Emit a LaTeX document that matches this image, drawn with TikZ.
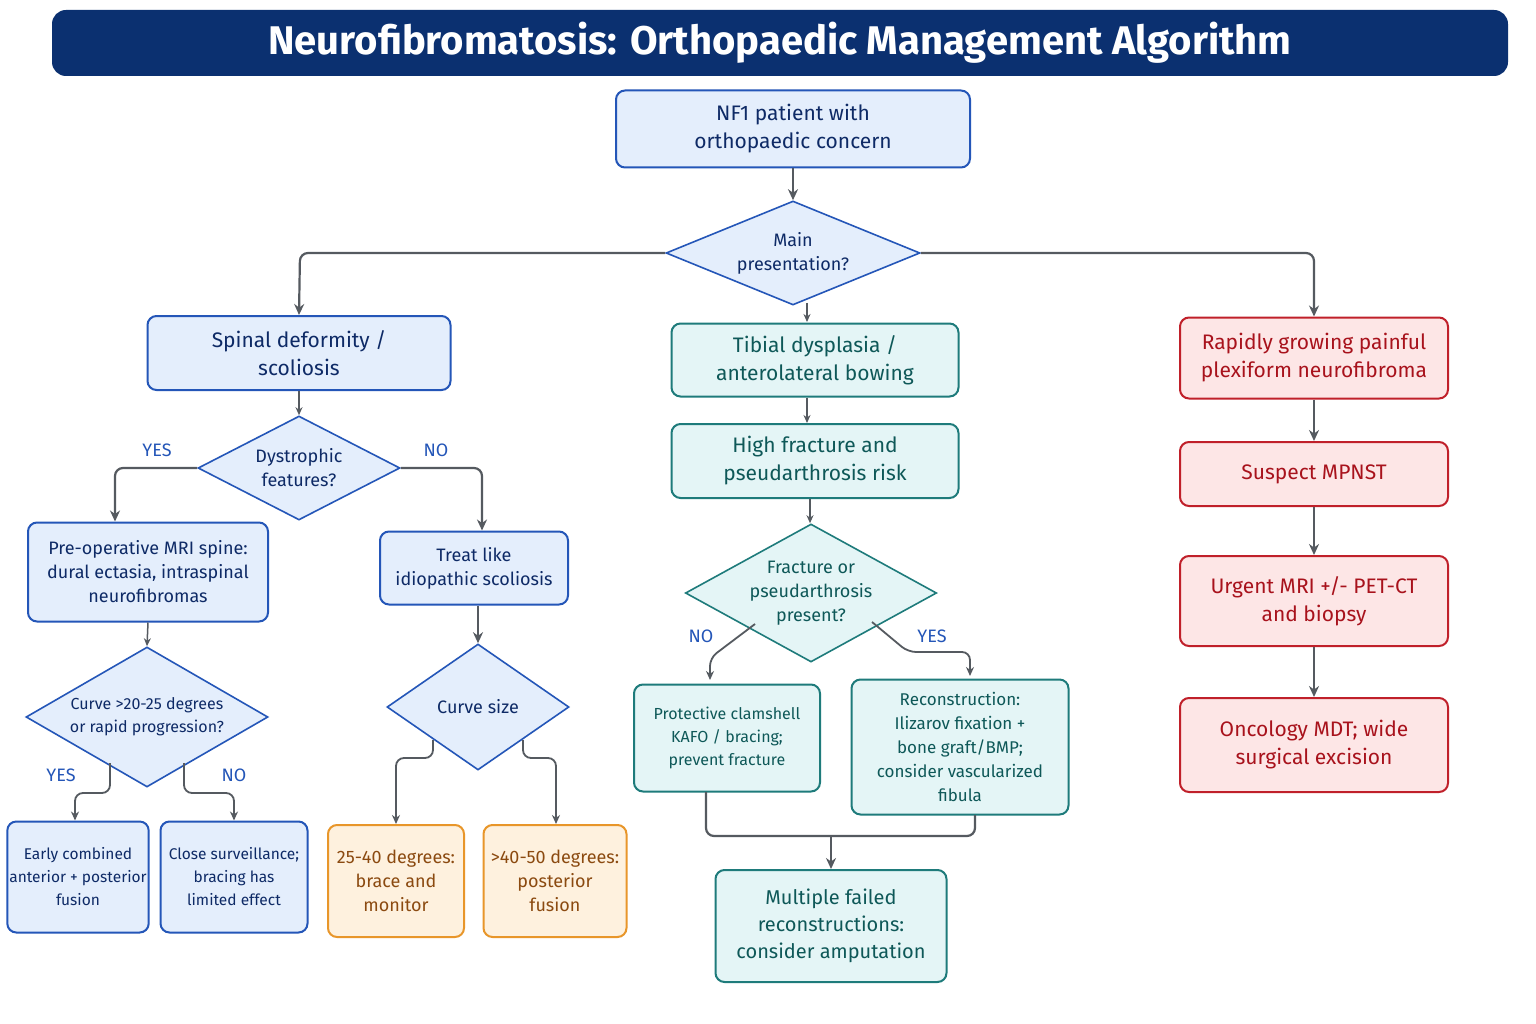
\documentclass[tikz,border=0pt]{standalone}
\usepackage{fontspec}
\setmainfont{Fira Sans}
\usetikzlibrary{shapes.geometric,arrows.meta}
\definecolor{navy}{HTML}{0B3070}
\definecolor{bfill}{HTML}{E4EEFC}
\definecolor{bdraw}{HTML}{2456B8}
\definecolor{btext}{HTML}{0E2A66}
\definecolor{tfill}{HTML}{E4F5F6}
\definecolor{tdraw}{HTML}{1E7B7B}
\definecolor{ttext}{HTML}{0E5858}
\definecolor{rfill}{HTML}{FDE6E6}
\definecolor{rdraw}{HTML}{C0202A}
\definecolor{rtext}{HTML}{A8121C}
\definecolor{ofill}{HTML}{FEF1DE}
\definecolor{odraw}{HTML}{E8962A}
\definecolor{otext}{HTML}{8B4A10}
\definecolor{lab}{HTML}{2456B8}
\definecolor{arr}{HTML}{555A60}
\tikzset{
 box/.style={draw, rounded corners=9pt, line width=2pt, align=center, inner sep=2pt},
 blue/.style={box, fill=bfill, draw=bdraw, text=btext},
 teal/.style={box, fill=tfill, draw=tdraw, text=ttext},
 red/.style={box, fill=rfill, draw=rdraw, text=rtext},
 orange/.style={box, fill=ofill, draw=odraw, text=otext},
 dia/.style={diamond, aspect=2, draw, line width=1.6pt, align=center, inner sep=0pt},
 bdia/.style={dia, fill=bfill, draw=bdraw, text=btext},
 tdia/.style={dia, fill=tfill, draw=tdraw, text=ttext},
 e/.style={draw=arr, line width=2.2pt, rounded corners=8pt, -{Stealth[length=11pt,width=10pt]}},
 lbl/.style={text=lab, font=\fontsize{18}{20}\selectfont},
 big/.style={font=\fontsize{21}{28}\selectfont},
 mid/.style={font=\fontsize{18}{24}\selectfont},
 sm/.style={font=\fontsize{16}{23}\selectfont},
}
\begin{document}
\begin{tikzpicture}[x=1pt,y=-1pt]
\useasboundingbox[fill=white] (0,0) rectangle (1536,1024);
\node[fill=navy, rounded corners=14pt, minimum width=1456pt, minimum height=66pt, text=white, font=\fontsize{40}{44}\selectfont\bfseries] (title) at (780,43) {Neurofibromatosis: Orthopaedic Management Algorithm};
\node[blue, big, minimum width=354pt, minimum height=77pt] (nf1) at (793,129) {NF1 patient with\\orthopaedic concern};
\node[bdia, mid, minimum width=254pt, minimum height=104pt] (main) at (793,253) {Main\\presentation?};
\node[blue, big, minimum width=303pt, minimum height=74pt] (spin) at (299,353) {Spinal deformity /\\scoliosis};
\node[teal, big, minimum width=287pt, minimum height=73pt] (tib) at (815,360) {Tibial dysplasia /\\anterolateral bowing};
\node[red, big, minimum width=268pt, minimum height=81pt] (rap) at (1314,358) {Rapidly growing painful\\plexiform neurofibroma};
\node[bdia, mid, minimum width=202pt, minimum height=104pt] (dys) at (299,468) {Dystrophic\\features?};
\node[teal, big, minimum width=287pt, minimum height=74pt] (high) at (815,461) {High fracture and\\pseudarthrosis risk};
\node[red, big, minimum width=268pt, minimum height=64pt] (susp) at (1314,474) {Suspect MPNST};
\node[blue, mid, minimum width=240pt, minimum height=99pt] (pre) at (148,572) {Pre-operative MRI spine:\\dural ectasia, intraspinal\\neurofibromas};
\node[blue, mid, minimum width=188pt, minimum height=73pt] (treat) at (474,568) {Treat like\\idiopathic scoliosis};
\node[tdia, mid, minimum width=214pt, minimum height=138pt] (frac) at (811,593) {Fracture or\\pseudarthrosis\\present?};
\node[red, big, minimum width=268pt, minimum height=90pt] (urg) at (1314,601) {Urgent MRI +/- PET-CT\\and biopsy};
\node[bdia, sm, minimum width=242pt, minimum height=140pt] (c20) at (147,717) {Curve >20-25 degrees\\or rapid progression?};
\node[bdia, mid, minimum width=182pt, minimum height=126pt] (cs) at (478,707) {Curve size};
\node[teal, sm, minimum width=186pt, minimum height=107pt] (prot) at (727,738) {Protective clamshell\\KAFO / bracing;\\prevent fracture};
\node[teal, mid, font=\fontsize{17}{24}\selectfont, minimum width=217pt, minimum height=135pt] (rec) at (960,747) {Reconstruction:\\Ilizarov fixation +\\bone graft/BMP;\\consider vascularized\\fibula};
\node[red, big, minimum width=268pt, minimum height=94pt] (onc) at (1314,745) {Oncology MDT; wide\\surgical excision};
\node[blue, sm, font=\fontsize{15.5}{23}\selectfont, minimum width=141pt, minimum height=111pt] (early) at (78,877) {Early combined\\anterior + posterior\\fusion};
\node[blue, sm, font=\fontsize{15.5}{23}\selectfont, minimum width=147pt, minimum height=111pt] (close) at (234,877) {Close surveillance;\\bracing has\\limited effect};
\node[orange, mid, minimum width=136pt, minimum height=112pt] (o1) at (396,881) {25-40 degrees:\\brace and\\monitor};
\node[orange, mid, minimum width=143pt, minimum height=112pt] (o2) at (555,881) {>40-50 degrees:\\posterior\\fusion};
\node[teal, big, font=\fontsize{20}{27}\selectfont, minimum width=231pt, minimum height=112pt] (mult) at (831,926) {Multiple failed\\reconstructions:\\consider amputation};
% edges
\draw[e] (nf1.south) -- (main.north);
\draw[e] (main.west) -- (300,253) -- (spin.north);
\draw[e] (main.east) -- (1314,253) -- (rap.north);
\draw[e, line width=1.5pt, -{Stealth[length=8pt,width=7pt]}] (main.south -| 807,0) ++(0,-3) -- (807,322);
\draw[e, line width=1.5pt, -{Stealth[length=8pt,width=7pt]}] (spin.south) -- (dys.north);
\draw[e] (dys.west) -- (115,468) -- (pre.north -| 115,0);
\draw[e] (dys.east) -- (482,468) -- (treat.north -| 482,0);
\node[lbl] (y1) at (157,450) {YES};
\node[lbl] (n1) at (436,450) {NO};
\draw[e, line width=1.5pt, -{Stealth[length=8pt,width=7pt]}] (pre.south) -- (c20.north);
\draw[e, line width=1.8pt, -{Stealth[length=9pt,width=8pt]}] (110,763) -- (110,793) -- (75,793) -- (early.north -| 75,0);
\draw[e, line width=1.8pt, -{Stealth[length=9pt,width=8pt]}] (184,763) -- (184,793) -- (234,793) -- (close.north);
\node[lbl] (y2) at (61,775) {YES};
\node[lbl] (n2) at (234,775) {NO};
\draw[e] (treat.south -| 478,0) -- (cs.north);
\draw[e, line width=1.8pt, -{Stealth[length=9pt,width=8pt]}] (433,740) -- (433,758) -- (396,758) -- (o1.north);
\draw[e, line width=1.8pt, -{Stealth[length=9pt,width=8pt]}] (523,740) -- (523,758) -- (556,758) -- (o2.north -| 556,0);
\draw[e, line width=1.5pt, -{Stealth[length=8pt,width=7pt]}] (tib.south -| 807,0) -- (high.north -| 807,0);
\draw[e, line width=1.5pt, -{Stealth[length=8pt,width=7pt]}] (high.south -| 810,0) -- (frac.north -| 810,0);
\draw[e, line width=1.8pt, -{Stealth[length=9pt,width=8pt]}] (755,624) -- (710,658) -- (710,680);
\draw[e, line width=1.8pt, -{Stealth[length=9pt,width=8pt]}] (872,622) -- (908,652) -- (970,652) -- (970,676);
\node[lbl] (n3) at (701,636) {NO};
\node[lbl] (y3) at (932,636) {YES};
\draw[draw=arr, line width=2.2pt, rounded corners=8pt] (706,792) -- (706,836) -- (975,836) -- (975,815);
\coordinate (j) at (831,836);
\draw[e] (j) -- (mult.north);
\draw[e] (rap.south) -- (susp.north);
\draw[e] (susp.south) -- (urg.north);
\draw[e] (urg.south) -- (onc.north);
\end{tikzpicture}
\end{document}
